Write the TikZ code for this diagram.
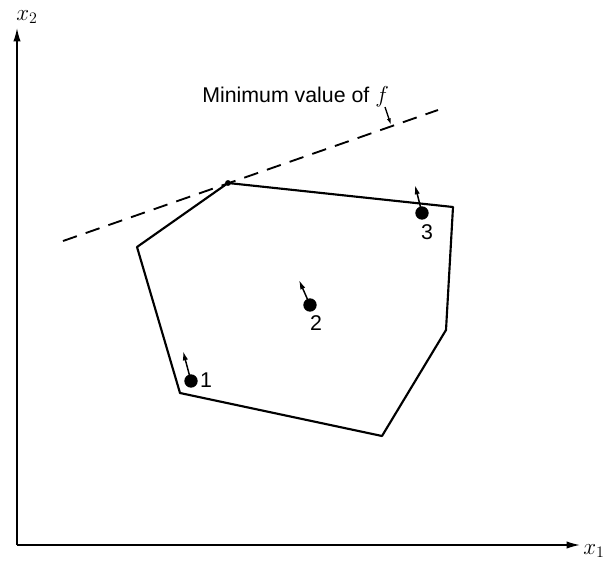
\documentclass[tikz,border=0pt]{standalone}
\usepackage{fontspec}
\setmainfont{Liberation Sans}
\usetikzlibrary{arrows.meta}
\begin{document}
\begin{tikzpicture}[x=0.75pt,y=-0.75pt,
  axis/.style={line width=1.1pt,-{Latex[length=10pt,width=5.5pt]}},
  edge/.style={line width=1.6pt,line join=round},
  pt/.style={circle,fill=black,inner sep=0pt,minimum size=10pt},
  grad/.style={line width=1.1pt,-{Latex[length=7pt,width=4pt]}},
  lbl/.style={font=\fontsize{16pt}{18pt}\selectfont,inner sep=0pt}]
\useasboundingbox (0,0) rectangle (603,564);
\coordinate (O) at (17,545);
\coordinate (Y) at (17,28);
\coordinate (X) at (580,545);
\draw[axis] (O) -- (Y);
\draw[axis] (O) -- (X);
\node[font=\fontsize{18pt}{20pt}\selectfont,inner sep=0pt] (lx2) at (27,17) {$x_2$};
\node[font=\fontsize{18pt}{20pt}\selectfont,inner sep=0pt] (lx1) at (594,551) {$x_1$};
% feasible region
\coordinate (A) at (228,183);
\coordinate (B) at (453,207);
\coordinate (C) at (446,330);
\coordinate (D) at (382,436);
\coordinate (E) at (180,393);
\coordinate (F) at (137,247);
\draw[edge] (A) -- (B) -- (C) -- (D) -- (E) -- (F) -- cycle;
\fill (A) circle (2.2pt);
% dashed line
\coordinate (L1) at (63,241);
\coordinate (L2) at (438,110);
\draw[line width=1.4pt,dash pattern=on 11pt off 7pt] (L1) -- (L2);
\node[lbl,anchor=base west] (minlbl) at (202,102) {Minimum value of $f$};
\coordinate (mt) at (385,107);
\coordinate (mh) at (391,125);
\draw[line width=1pt,-{Latex[length=5pt,width=3pt]}] (mt) -- (mh);
% points
\node[pt] (p1) at (191,381) {};
\node[pt] (p2) at (310,305) {};
\node[pt] (p3) at (422,213) {};
\coordinate (g1) at (183,351);
\coordinate (g2) at (299,280);
\coordinate (g3) at (415,185);
\draw[grad] (p1.center) -- (g1);
\draw[grad] (p2.center) -- (g2);
\draw[grad] (p3.center) -- (g3);
\node[lbl] (n1) at (206,380) {1};
\node[lbl] (n2) at (316,323) {2};
\node[lbl] (n3) at (427,232) {3};
\end{tikzpicture}
\end{document}
